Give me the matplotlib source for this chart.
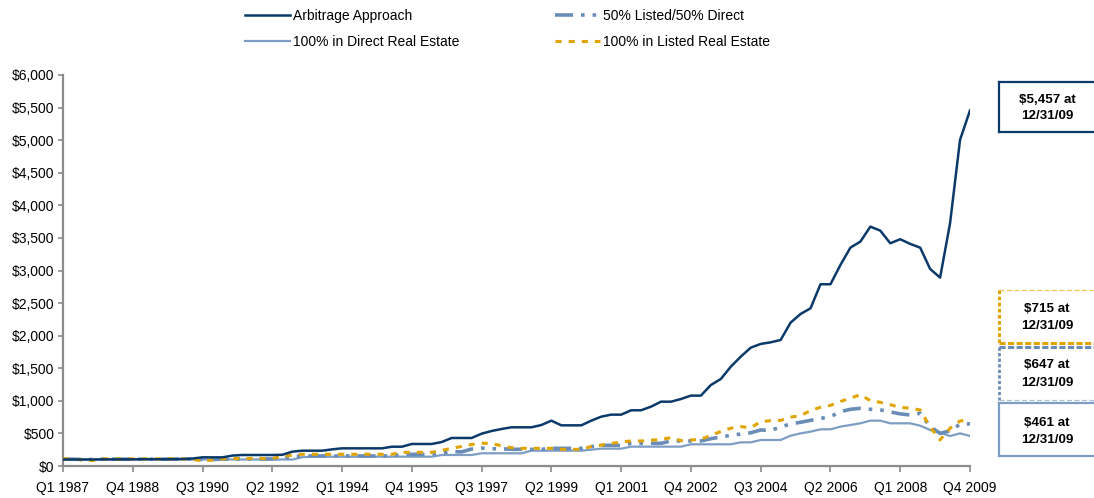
import matplotlib
matplotlib.use("Agg")
import matplotlib.pyplot as plt
from matplotlib.lines import Line2D

plt.rcParams['font.family'] = ['Liberation Sans', 'DejaVu Sans']

# ---- data (growth of $100, quarterly Q1 1987 .. Q4 2009) ----
arbitrage = [
    100, 100, 100, 100,      # 1987
    102, 102, 102, 102,      # 1988
    104, 104, 104, 104,      # 1989
    108, 115, 133, 133,      # 1990
    133, 160, 169, 169,      # 1991
    169, 169, 172, 220,      # 1992
    235, 235, 235, 255,      # 1993
    271, 271, 271, 271,      # 1994
    271, 296, 296, 338,      # 1995
    338, 338, 368, 430,      # 1996
    430, 430, 496, 537,      # 1997
    568, 594, 594, 594,      # 1998
    629, 696, 624, 624,      # 1999
    624, 696, 757, 788,      # 2000
    788, 855, 855, 911,      # 2001
    987, 987, 1028, 1080,    # 2002
    1080, 1243, 1335, 1524,  # 2003
    1678, 1816, 1873, 1898,  # 2004
    1934, 2200, 2333, 2420,  # 2005
    2789, 2789, 3085, 3351,  # 2006
    3443, 3673, 3612, 3418,  # 2007
    3480, 3408, 3351, 3024,  # 2008
    2891, 3725, 5004, 5457,  # 2009
]
direct = [
    100, 100, 96, 96,
    98, 98, 100, 100,
    100, 100, 100, 100,
    100, 100, 100, 100,
    100, 100, 100, 100,
    100, 100, 100, 98,
    135, 143, 143, 143,
    143, 143, 143, 143,
    143, 143, 143, 143,
    143, 143, 169, 169,
    169, 169, 195, 195,
    195, 195, 195, 235,
    235, 235, 235, 235,
    235, 250, 266, 266,
    266, 297, 297, 297,
    297, 297, 297, 333,
    333, 333, 333, 333,
    363, 363, 399, 399,
    399, 465, 501, 527,
    563, 563, 604, 629,
    655, 696, 696, 655,
    655, 655, 619, 553,
    512, 460, 501, 461,
]
fifty_fifty = [
    105, 105, 100, 100,
    105, 105, 105, 105,
    105, 105, 105, 105,
    105, 105, 100, 100,
    105, 108, 108, 108,
    108, 108, 120, 145,
    154, 154, 154, 154,
    154, 154, 154, 154,
    154, 154, 179, 179,
    179, 179, 200, 218,
    218, 260, 275, 265,
    265, 256, 256, 256,
    256, 271, 271, 271,
    271, 297, 317, 317,
    317, 348, 348, 348,
    348, 384, 384, 384,
    384, 419, 445, 471,
    490, 510, 553, 545,
    600, 645, 671, 700,
    730, 757, 834, 870,
    885, 870, 860, 830,
    800, 783, 809, 604,
    501, 540, 640, 647,
]
listed = [
    110, 110, 90, 85,
    110, 110, 110, 110,
    110, 110, 110, 110,
    110, 100, 80, 90,
    110, 115, 115, 115,
    115, 115, 150, 165,
    180, 180, 180, 180,
    180, 180, 180, 180,
    180, 180, 210, 210,
    210, 210, 240, 271,
    300, 330, 350, 345,
    310, 280, 271, 271,
    271, 271, 256, 256,
    256, 300, 320, 345,
    370, 384, 384, 395,
    409, 434, 389, 400,
    409, 470, 530, 580,
    604, 588, 680, 696,
    700, 750, 773, 850,
    901, 930, 990, 1040,
    1095, 1003, 977, 940,
    901, 886, 860, 600,
    400, 580, 690, 715,
]
tick_labels = ["Q1 1987", "Q4 1988", "Q3 1990", "Q2 1992", "Q1 1994", "Q4 1995",
               "Q3 1997", "Q2 1999", "Q1 2001", "Q4 2002", "Q3 2004", "Q2 2006",
               "Q1 2008", "Q4 2009"]
y_ticks = [0, 500, 1000, 1500, 2000, 2500, 3000, 3500, 4000, 4500, 5000, 5500, 6000]
series_names = ["Arbitrage Approach", "100% in Direct Real Estate",
                "50% Listed/50% Direct", "100% in Listed Real Estate"]
end_labels = ["$5,457 at", "$715 at", "$647 at", "$461 at"]
end_date = "12/31/09"

# ---- styles ----
NAVY = '#0B3A6A'
DIRECT_C = '#7E9DC4'
MIX_C = '#6A8CB6'
GOLD = '#E0A400'
GRAY = '#8C8C8C'

W, H = 1094, 498
fig = plt.figure(figsize=(W / 100, H / 100), dpi=100)

def fx(px):
    return px / W

def fy(py):
    return 1 - py / H

ax = fig.add_axes([fx(63), fy(466), fx(970) - fx(63), fy(75) - fy(466)])
x = list(range(len(arbitrage)))

l_dir, = ax.plot(x, direct, color=DIRECT_C, lw=1.6, solid_joinstyle='round', zorder=2)
l_mix, = ax.plot(x, fifty_fifty, color=MIX_C, lw=2.6, dashes=(5, 2.2, 1, 2.2, 1, 2.2), zorder=3)
l_lst, = ax.plot(x, listed, color=GOLD, lw=2.2, dashes=(2, 2.3), zorder=4)
l_arb, = ax.plot(x, arbitrage, color=NAVY, lw=1.8, solid_joinstyle='round', zorder=5)

ax.set_xlim(0, 91)
ax.set_ylim(0, 6000)
ax.set_xticks(list(range(0, 92, 7)))
ax.set_xticklabels(tick_labels, fontsize=10)
ax.set_yticks(y_ticks)
ax.set_yticklabels([f"${v:,}" for v in y_ticks], fontsize=10)
for s in ['top', 'right']:
    ax.spines[s].set_visible(False)
for s in ['left', 'bottom']:
    ax.spines[s].set_color(GRAY)
    ax.spines[s].set_linewidth(1.6)
ax.tick_params(axis='x', colors=GRAY, length=4.5, width=1.2, pad=6, labelcolor='black')
ax.tick_params(axis='y', colors=GRAY, length=3.5, width=1.2, pad=2.5, labelcolor='black')
ax.patch.set_visible(False)

# ---- legend (two columns) ----
leg_kw = dict(loc='upper left', frameon=False, fontsize=10, handlelength=3.25,
              handletextpad=0.22, labelspacing=0.89, borderpad=0, borderaxespad=0)
leg1 = fig.legend([l_arb, l_dir], series_names[:2], bbox_to_anchor=(fx(245), fy(9)), **leg_kw)
leg2 = fig.legend([l_mix, l_lst], series_names[2:], bbox_to_anchor=(fx(555), fy(9)), **leg_kw)

# ---- end-value boxes ----
def hline(x0, x1, y, **kw):
    fig.add_artist(Line2D([fx(x0), fx(x1)], [fy(y), fy(y)], **kw))

def vline(x0, y0, y1, **kw):
    fig.add_artist(Line2D([fx(x0), fx(x0)], [fy(y0), fy(y1)], **kw))

BX = 999
RX = 1100
# box 1 : arbitrage
hline(BX, RX, 82, color=NAVY, lw=1.6)
hline(BX, RX, 132, color=NAVY, lw=1.6)
vline(BX, 82, 132, color=NAVY, lw=1.6)
# box 2 : listed
hline(BX, RX, 290, color='#F0C75A', lw=0.9, dashes=(4, 2))
vline(BX, 290, 343, color=GOLD, lw=2.2, dashes=(1.2, 0.8))
hline(BX, RX, 343, color=GOLD, lw=2.2, dashes=(2, 0.8))
# box 3 : 50/50
hline(BX, RX, 346.5, color=MIX_C, lw=2.2, dashes=(2, 0.8))
vline(BX, 346.5, 400, color=MIX_C, lw=2.0, dashes=(1.2, 0.8))
hline(BX, RX, 400, color='#A9BFDA', lw=0.9, dashes=(4, 2))
# box 4 : direct
hline(BX, RX, 403, color=DIRECT_C, lw=1.6)
hline(BX, RX, 456, color=DIRECT_C, lw=1.6)
vline(BX, 403, 456, color=DIRECT_C, lw=1.6)

text_pos = [(100, 116), (309, 326), (365, 383), (423, 440)]
for lab, (y1, y2) in zip(end_labels, text_pos):
    fig.text(fx(1047), fy(y1), lab, ha='center', va='center', fontsize=9.6, fontweight='bold')
    fig.text(fx(1047), fy(y2), end_date, ha='center', va='center', fontsize=9.6, fontweight='bold')

fig.savefig("out.png", dpi=100)
